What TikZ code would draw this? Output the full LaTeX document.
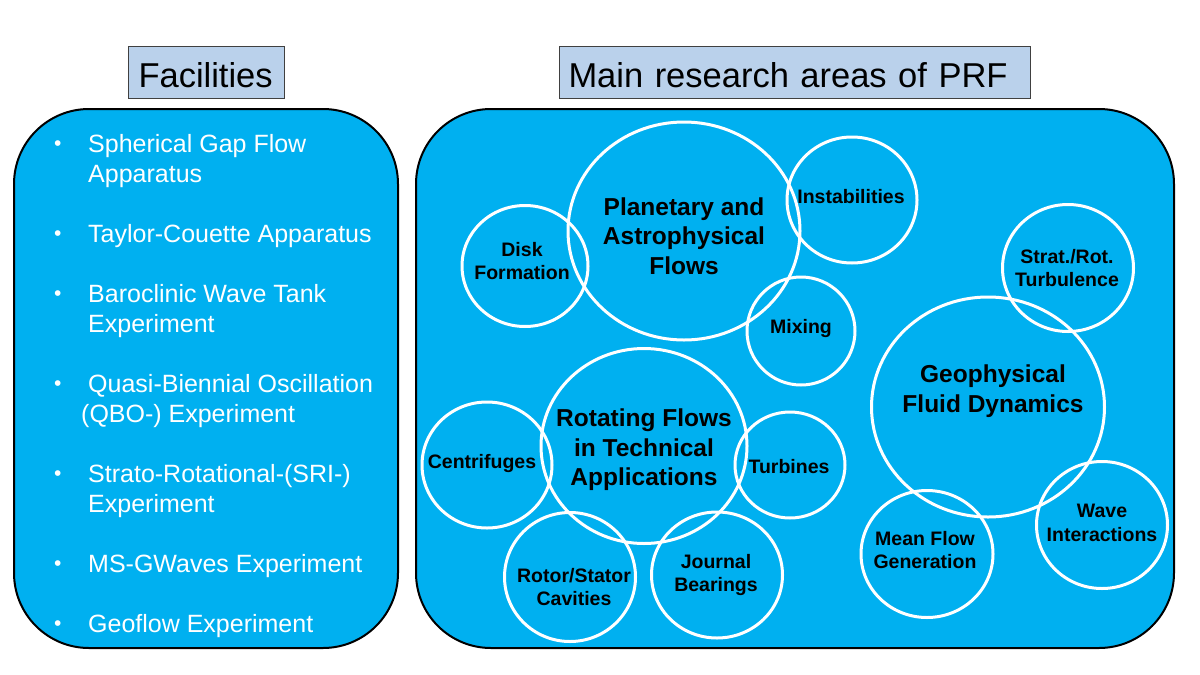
\documentclass[tikz,border=0pt]{standalone}
\usepackage{fontspec}
\setmainfont{Liberation Sans}
\usetikzlibrary{shapes.geometric}

\definecolor{panelblue}{RGB}{0,176,240}
\definecolor{titleblue}{RGB}{186,209,235}
\newcommand\facbul{\raisebox{1.5pt}{\fontsize{21}{21}\selectfont\textbullet}}

\tikzset{
	panel/.style={draw=black, line width=2pt, fill=panelblue, rounded corners=75pt},
	titlebox/.style={draw=black!75, line width=1pt, fill=titleblue, anchor=west, align=left,
		inner ysep=0pt, minimum height=52pt, text height=30pt, text depth=0pt,
		font=\fontsize{34.5}{40}\selectfont},
	area/.style={ellipse, draw=white, line width=3pt, inner sep=0pt},
	bigtxt/.style={align=center, inner sep=0pt, font=\fontsize{24.5}{29.5}\selectfont\bfseries},
	smalltxt/.style={align=center, inner sep=0pt, font=\fontsize{19.5}{23.5}\selectfont\bfseries},
	faclist/.style={anchor=north west, inner sep=0pt, text=white, font=\fontsize{25}{30}\selectfont}
}

\begin{document}
\begin{tikzpicture}[x=1pt, y=-1pt]
		%%%%% START %%%%%
		\useasboundingbox[fill=white] (0,0) rectangle (1200,675);
		
		% headings
		\node[titlebox, inner xsep=10pt, text width=136pt] (facil-title) at (128,72) {Facilities};
		\node[titlebox, inner xsep=9pt, text width=453pt] (prf-title) at (559,72) {Main research areas of PRF};
		
		% panels
		\draw[panel] (14,109) rectangle (398,648);
		\draw[panel] (416,109) rectangle (1174,648);
		
		% facilities
		\node[faclist] (facil-list) at (54,131) {\renewcommand\arraystretch{1}%
			\begin{tabular}{@{}p{34pt}@{}l@{}}
				\facbul & Spherical Gap Flow\\
				& Apparatus\\[30pt]
				\facbul & Taylor-Couette Apparatus\\[30pt]
				\facbul & Baroclinic Wave Tank\\
				& Experiment\\[30pt]
				\facbul & Quasi-Biennial Oscillation\\
				& \hspace*{-7pt}(QBO-) Experiment\\[30pt]
				\facbul & Strato-Rotational-(SRI-)\\
				& Experiment\\[30pt]
				\facbul & MS-GWaves Experiment\\[30pt]
				\facbul & Geoflow Experiment
			\end{tabular}};
		
		% research areas
		\node[area, minimum width=232pt, minimum height=218pt] (planet) at (684,231) {};
		\node[area, minimum width=126pt, minimum height=121pt] (disk) at (525,266) {};
		\node[area, minimum width=130pt, minimum height=126pt] (instab) at (852,200) {};
		\node[area, minimum width=108pt, minimum height=108pt] (mixing) at (801,331) {};
		\node[area, minimum width=131pt, minimum height=127pt] (strat) at (1068,268) {};
		\node[area, minimum width=233pt, minimum height=220pt] (geo) at (988,407) {};
		\node[area, minimum width=131pt, minimum height=127pt] (wave) at (1102,525) {};
		\node[area, minimum width=132pt, minimum height=127pt] (mean) at (927,554) {};
		\node[area, minimum width=206pt, minimum height=195pt] (rotflow) at (644,446) {};
		\node[area, minimum width=130pt, minimum height=126pt] (centri) at (487,465) {};
		\node[area, minimum width=110pt, minimum height=106pt] (turbines) at (790,465) {};
		\node[area, minimum width=131pt, minimum height=129pt] (rotor) at (570,577) {};
		\node[area, minimum width=131pt, minimum height=126pt] (journal) at (717,575) {};
		
		\node[bigtxt] (planet-t) at (684,236) {Planetary and\\Astrophysical\\Flows};
		\node[smalltxt] (disk-t) at (522,261) {Disk\\Formation};
		\node[smalltxt] (instab-t) at (851,197) {Instabilities};
		\node[smalltxt] (mixing-t) at (801,328) {Mixing};
		\node[smalltxt] (strat-t) at (1067,268) {Strat./Rot.\\Turbulence};
		\node[bigtxt] (geo-t) at (993,391) {Geophysical\\Fluid Dynamics};
		\node[smalltxt] (wave-t) at (1102,523) {Wave\\Interactions};
		\node[smalltxt] (mean-t) at (925,550) {Mean Flow\\Generation};
		\node[bigtxt] (rotflow-t) at (644,450) {Rotating Flows\\in Technical\\Applications};
		\node[smalltxt] (centri-t) at (482,463) {Centrifuges};
		\node[smalltxt] (turbines-t) at (789,467) {Turbines};
		\node[smalltxt] (rotor-t) at (574,587) {Rotor/Stator\\Cavities};
		\node[smalltxt] (journal-t) at (716,575) {Journal\\Bearings};
		
		%%%%% END %%%%%
\end{tikzpicture}
\end{document}
